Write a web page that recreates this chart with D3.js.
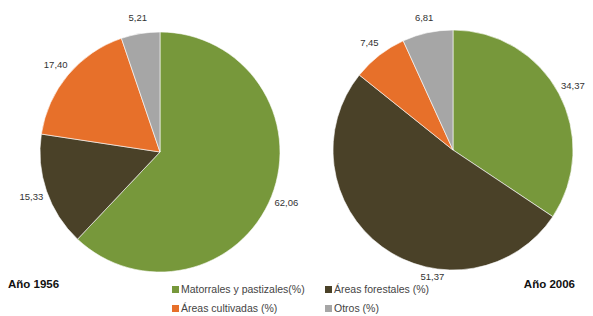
<!DOCTYPE html>
<html>
<head>
<meta charset="utf-8">
<script src="https://cdnjs.cloudflare.com/ajax/libs/d3/7.8.5/d3.min.js"></script>
<style>
  body { margin: 0; background: #fff; }
  text { font-family: "Liberation Sans", Arial, sans-serif; }
</style>
</head>
<body>
<svg id="mysvg" width="593" height="316"></svg>
<script>
// categories, in drawing order (clockwise from 12 o'clock)
var categories = ["Matorrales y pastizales(%)", "Áreas forestales (%)", "Áreas cultivadas (%)", "Otros (%)"];
var years = ["Año 1956", "Año 2006"];
var values1956 = [62.06, 15.33, 17.40, 5.21];
var values2006 = [34.37, 51.37, 7.45, 6.81];
var legendOrder = [0, 1, 2, 3];

var colors = ["#77983b", "#4a4128", "#e7702a", "#a6a6a6"];

var svg = d3.select("#mysvg");
var color = d3.scaleOrdinal().domain(categories).range(colors);
var fmt = function (v) { return d3.format(".2f")(v).replace(".", ","); };

var pie = d3.pie().sort(null).value(function (d) { return d.v; });
var radius = 120;
var arc = d3.arc().innerRadius(0).outerRadius(radius);

// label nudges (Excel best fit moved the big 2006 label toward the bottom)
var labelNudge = { "Año 2006|1": { a: -0.47, r: -8 } };

function drawPie (values, year, cx, cy) {
	var data = values.map(function (v, i) { return { v: v, cat: categories[i], i: i }; });
	var g = svg.append("g").attr("transform", "translate(" + cx + "," + cy + ")");
	var arcs = pie(data);

	g.selectAll("path").data(arcs).enter().append("path")
		.attr("d", arc)
		.attr("fill", function (d) { return color(d.data.cat); })
		.attr("stroke", "#fff")
		.attr("stroke-width", 0.6);

	g.selectAll("text.lbl").data(arcs).enter().append("text")
		.attr("class", "lbl")
		.attr("font-size", 9.5)
		.attr("fill", "#333")
		.attr("text-anchor", "middle")
		.attr("dominant-baseline", "central")
		.attr("transform", function (d) {
			var n = labelNudge[year + "|" + d.data.i] || { a: 0, r: 0 };
			var a = (d.startAngle + d.endAngle) / 2 + n.a;
			var r = radius + 16 + n.r;
			return "translate(" + (Math.sin(a) * r) + "," + (-Math.cos(a) * r) + ")";
		})
		.text(function (d) { return fmt(d.data.v); });
}

drawPie(values1956, years[0], 160, 152);
drawPie(values2006, years[1], 453, 150);

svg.append("text").attr("x", 8).attr("y", 288)
	.attr("font-size", 11.5).attr("font-weight", "bold").attr("fill", "#111")
	.text(years[0]);
svg.append("text").attr("x", 575).attr("y", 288).attr("text-anchor", "end")
	.attr("font-size", 11.5).attr("font-weight", "bold").attr("fill", "#111")
	.text(years[1]);

// legend 2x2
var legX = d3.scalePoint().domain([0, 1]).range([172, 325]);
var legY = d3.scalePoint().domain([0, 1]).range([293, 312]);
var leg = svg.append("g").selectAll("g").data(legendOrder).enter().append("g")
	.attr("transform", function (d, k) { return "translate(" + legX(k % 2) + "," + legY(Math.floor(k / 2)) + ")"; });
leg.append("rect").attr("x", 0).attr("y", -7).attr("width", 7).attr("height", 7)
	.attr("fill", function (d) { return color(categories[d]); });
leg.append("text").attr("x", 9).attr("y", 0)
	.attr("font-size", 10.5).attr("fill", "#444")
	.text(function (d) { return categories[d]; });
</script>
</body>
</html>
